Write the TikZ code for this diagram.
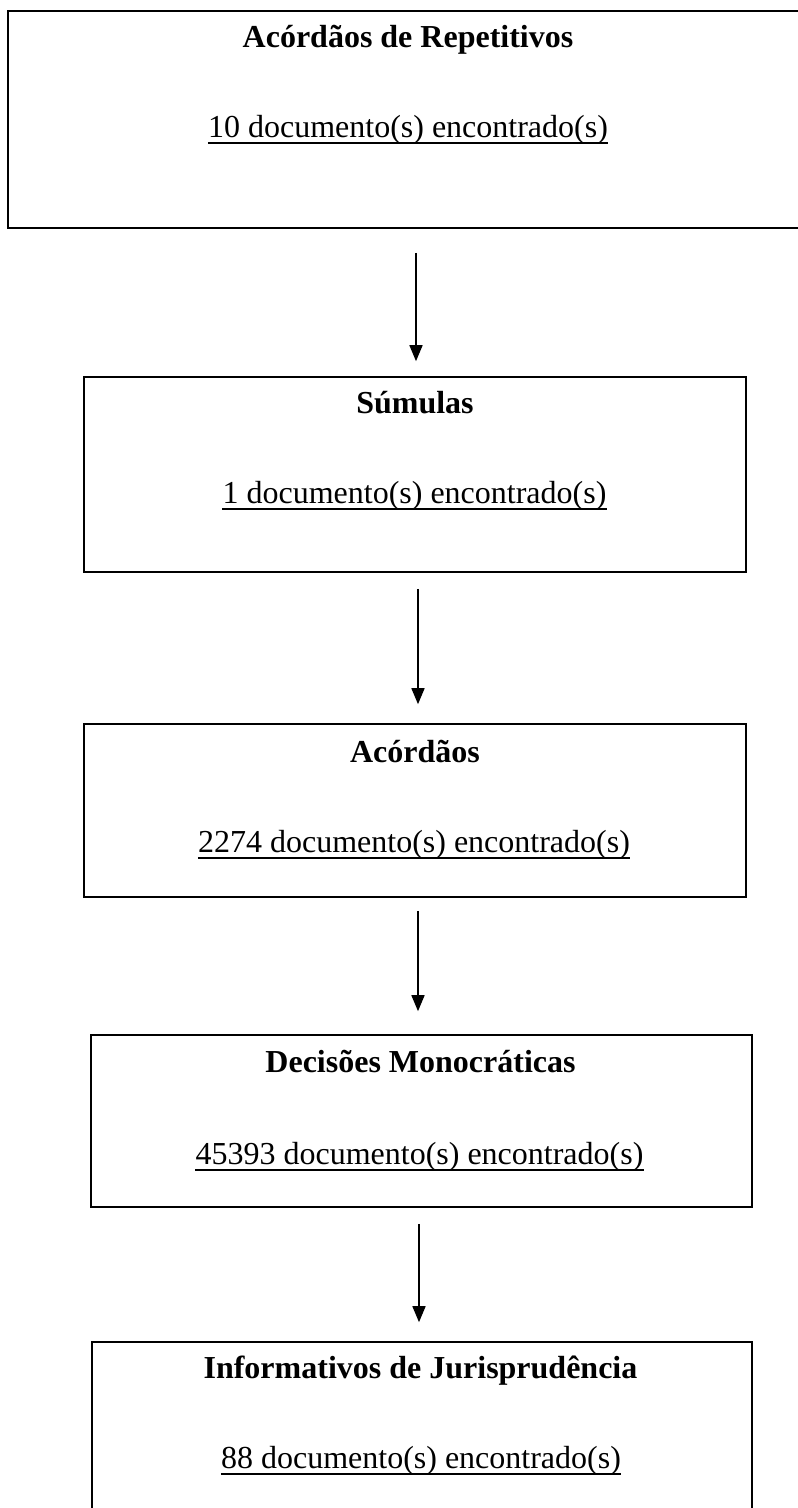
\documentclass[tikz,border=0pt]{standalone}
\usepackage{fontspec}
\setmainfont{Liberation Serif}
\usetikzlibrary{arrows.meta}
\begin{document}
\begin{tikzpicture}[x=1pt,y=-1pt,
  box/.style={draw, line width=1.6pt, inner sep=0pt, rectangle},
  ttl/.style={anchor=base, font=\fontsize{32}{38}\selectfont\bfseries, inner sep=0pt},
  sub/.style={anchor=base, font=\fontsize{32}{38}\selectfont, inner sep=0pt},
  uline/.style={line width=1.3pt},
  arr/.style={line width=1.6pt, -{Triangle[length=16pt,width=13pt]}}]
\useasboundingbox (0,0) rectangle (798,1508);
% boxes
\node[box, minimum width=800pt, minimum height=217pt] (b1) at (408,119.5) {};
\node[box, minimum width=662pt, minimum height=195pt] (b2) at (415,474.5) {};
\node[box, minimum width=662pt, minimum height=173pt] (b3) at (415,810.5) {};
\node[box, minimum width=661pt, minimum height=172pt] (b4) at (421.5,1121) {};
\node[box, minimum width=660pt, minimum height=176pt] (b5) at (422,1430) {};
% titles
\node[ttl] (t1) at (408,47) {Acórdãos de Repetitivos};
\node[ttl] (t2) at (415,413) {Súmulas};
\node[ttl] (t3) at (415,762) {Acórdãos};
\node[ttl] (t4) at (420.5,1072) {Decisões Monocráticas};
\node[ttl] (t5) at (420.5,1378) {Informativos de Jurisprudência};
% counts
\node[sub] (s1) at (408,137) {10 documento(s) encontrado(s)};
\node[sub] (s2) at (414.5,503) {1 documento(s) encontrado(s)};
\node[sub] (s3) at (414,852) {2274 documento(s) encontrado(s)};
\node[sub] (s4) at (419.5,1164) {45393 documento(s) encontrado(s)};
\node[sub] (s5) at (421,1468) {88 documento(s) encontrado(s)};
\foreach \s in {s1,s2,s3,s4,s5}
  \draw[uline] ([yshift=-6pt]\s.base west) -- ([yshift=-6pt]\s.base east);
% arrows
\draw[arr] ([xshift=8pt,yshift=-24pt]b1.south) -- ([xshift=1pt,yshift=15pt]b2.north);
\draw[arr] ([xshift=3pt,yshift=-16pt]b2.south) -- ([xshift=3pt,yshift=19pt]b3.north);
\draw[arr] ([xshift=3pt,yshift=-13pt]b3.south) -- ([xshift=-3.5pt,yshift=23pt]b4.north);
\draw[arr] ([xshift=-2.5pt,yshift=-16pt]b4.south) -- ([xshift=-3pt,yshift=19pt]b5.north);
\end{tikzpicture}
\end{document}
